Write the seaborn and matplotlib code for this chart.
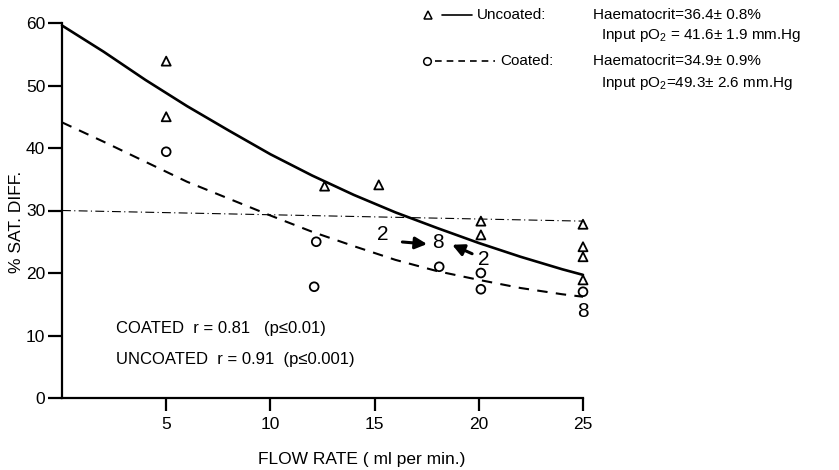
import matplotlib
matplotlib.use("Agg")
import matplotlib.pyplot as plt
from matplotlib.lines import Line2D
import seaborn as sns
import pandas as pd

# Measured points
uncoated_x = [5, 5, 12.6, 15.2, 20.1, 20.1, 25, 25, 25, 25]
uncoated_y = [53.9, 45.0, 33.9, 34.1, 28.3, 26.1, 27.8, 24.2, 22.6, 18.9]
coated_x = [5, 12.2, 12.1, 18.1, 20.1, 20.1, 25]
coated_y = [39.4, 25.0, 17.8, 21.0, 20.0, 17.4, 17.0]

# Fitted curves
fit_x = [0, 2, 4, 6, 8, 10, 12, 14, 16, 18, 20, 22, 24, 25]
uncoated_fit = [59.6, 55.4, 50.9, 46.7, 42.8, 39.0, 35.6, 32.5, 29.7, 27.2, 24.8, 22.6, 20.6, 19.7]
coated_fit = [44.1, 41.0, 37.8, 34.6, 31.9, 29.2, 26.6, 24.3, 22.1, 20.3, 18.9, 17.6, 16.6, 16.2]

# Reference level
ref_x = [0, 25]
ref_y = [30.0, 28.3]

x_ticks = [5, 10, 15, 20, 25]
y_ticks = [0, 10, 20, 30, 40, 50, 60]

sns.set_style("ticks")
FONT = ["Liberation Sans", "DejaVu Sans"]
plt.rcParams.update({
    "font.family": FONT,
    "mathtext.fontset": "custom",
    "mathtext.rm": "Liberation Sans",
    "text.color": "black",
    "axes.labelcolor": "black",
    "axes.edgecolor": "black",
    "xtick.color": "black",
    "ytick.color": "black",
})

W, H = 839, 470
fig = plt.figure(figsize=(W / 100, H / 100), dpi=100)
ax = fig.add_axes([62 / W, 1 - 398 / H, (583 - 62) / W, (398 - 23) / H])

unc_df = pd.DataFrame({"x": uncoated_x, "y": uncoated_y})
coa_df = pd.DataFrame({"x": coated_x, "y": coated_y})
fit_df = pd.DataFrame({"x": fit_x, "unc": uncoated_fit, "coa": coated_fit})

sns.lineplot(data=fit_df, x="x", y="unc", ax=ax, color="black", lw=1.9, clip_on=False)
sns.lineplot(data=fit_df, x="x", y="coa", ax=ax, color="black", lw=1.5,
             dashes=False, linestyle=(0, (5, 4)), clip_on=False)
ax.plot(ref_x, ref_y, color="black", lw=0.8, linestyle=(0, (8, 3, 1, 3)))

sns.scatterplot(data=unc_df, x="x", y="y", ax=ax, marker="^", s=42,
                facecolor="none", edgecolor="black", linewidth=1.3, clip_on=False)
sns.scatterplot(data=coa_df, x="x", y="y", ax=ax, marker="o", s=40,
                facecolor="none", edgecolor="black", linewidth=1.3, clip_on=False)

# Coincident-point counts
ax.text(18.05, 24.8, "8", ha="center", va="center", fontsize=15)
ax.text(25.0, 13.8, "8", ha="center", va="center", fontsize=15)
ax.text(15.4, 26.1, "2", ha="center", va="center", fontsize=15)
ax.text(20.25, 22.2, "2", ha="center", va="center", fontsize=15)
ax.annotate("", xy=(17.65, 24.6), xytext=(16.2, 25.0),
            arrowprops=dict(arrowstyle="-|>,head_length=0.7,head_width=0.35", color="black", lw=2.2))
ax.annotate("", xy=(18.6, 24.7), xytext=(19.8, 22.9),
            arrowprops=dict(arrowstyle="-|>,head_length=0.7,head_width=0.35", color="black", lw=2.2))

ax.text(2.6, 11.2, "COATED  r = 0.81   (p\u22640.01)", ha="left", va="center", fontsize=12)
ax.text(2.6, 6.1, "UNCOATED  r = 0.91  (p\u22640.001)", ha="left", va="center", fontsize=12)

ax.set_xlim(0, 25)
ax.set_ylim(0, 60)
ax.set_xticks(x_ticks)
ax.set_yticks(y_ticks)
ax.tick_params(axis="y", length=10, width=1.6, labelsize=12.5, pad=2)
ax.tick_params(axis="x", length=9, width=1.6, labelsize=12.5, pad=5)
for s in ("top", "right"):
    ax.spines[s].set_visible(False)
for s in ("left", "bottom"):
    ax.spines[s].set_linewidth(1.6)
ax.set_xlabel("FLOW RATE ( ml per min.)", fontsize=12.5, va="center")
ax.set_ylabel("% SAT. DIFF.", fontsize=12.5, va="center")
ax.xaxis.set_label_coords(0.576, -0.163)
ax.yaxis.set_label_coords(-0.088, 0.47)

# Key
def fx(px):
    return px / W

def fy(py):
    return 1 - py / H

fig.add_artist(Line2D([fx(428)], [fy(15)], marker="^", ms=6, mfc="none", mec="black", mew=1.1, ls="none"))
fig.add_artist(Line2D([fx(442), fx(472)], [fy(15), fy(15)], color="black", lw=1.2))
fig.add_artist(Line2D([fx(427)], [fy(61)], marker="o", ms=5.5, mfc="none", mec="black", mew=1.1, ls="none"))
fig.add_artist(Line2D([fx(435), fx(495)], [fy(61), fy(61)], color="black", lw=1.2, linestyle=(0, (4, 3))))

ks = 11
fig.text(fx(477), fy(15), "Uncoated:", ha="left", va="center", fontsize=ks)
fig.text(fx(593), fy(15), "Haematocrit=36.4\u00b1 0.8%", ha="left", va="center", fontsize=ks)
fig.text(fx(601), fy(36), "Input pO$_\\mathrm{2}$ = 41.6\u00b1 1.9 mm.Hg", ha="left", va="center", fontsize=ks)
fig.text(fx(500), fy(61), "Coated:", ha="left", va="center", fontsize=ks)
fig.text(fx(593), fy(61), "Haematocrit=34.9\u00b1 0.9%", ha="left", va="center", fontsize=ks)
fig.text(fx(601), fy(83), "Input pO$_\\mathrm{2}$=49.3\u00b1 2.6 mm.Hg", ha="left", va="center", fontsize=ks)

fig.savefig("out.png", dpi=100)
